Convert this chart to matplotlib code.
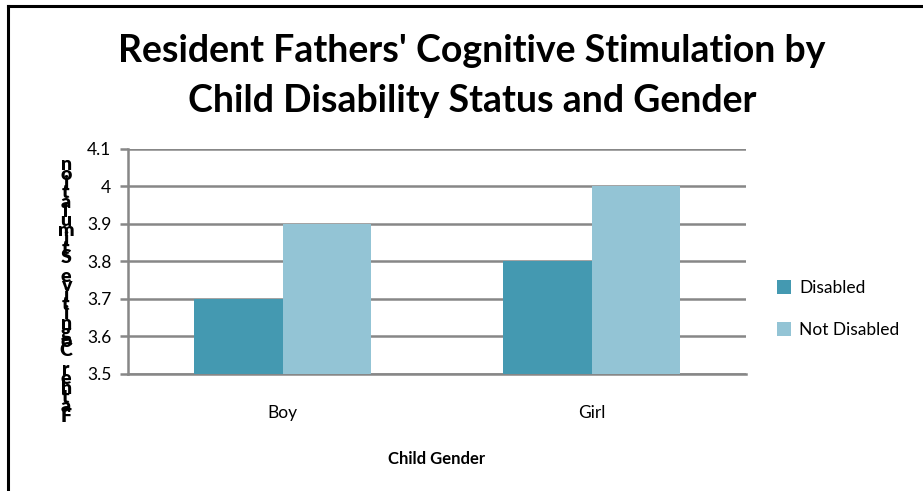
import matplotlib.pyplot as plt
import numpy as np
from matplotlib.lines import Line2D

# Data
genders = ['Boy', 'Girl']
disabled = [3.7, 3.8]
not_disabled = [3.9, 4.0]
series_names = ['Disabled', 'Not Disabled']
y_ticks = [3.5, 3.6, 3.7, 3.8, 3.9, 4.0, 4.1]
y_tick_labels = ['3.5', '3.6', '3.7', '3.8', '3.9', '4', '4.1']
y_label = 'Father Cognitive Stimulation'

col_dis = '#4499B1'
col_not = '#93C4D5'
grid_col = '#878787'

plt.rcParams['font.family'] = ['Lato', 'DejaVu Sans']

W, H = 923, 491
fig = plt.figure(figsize=(W / 100, H / 100), dpi=100)

# outer frame (only left and top edges visible in the reference)
fig.add_artist(Line2D([8 / W, 8 / W], [0, 1 - 6 / H], color='black', lw=2.2, transform=fig.transFigure))
fig.add_artist(Line2D([8 / W, 1], [1 - 6 / H, 1 - 6 / H], color='black', lw=2.2, transform=fig.transFigure))

ax = fig.add_axes([128 / W, 1 - 374 / H, (746 - 128) / W, (374 - 149) / H])

x = np.arange(len(genders))
w = 0.285
ax.bar(x - w / 2, disabled, w, color=col_dis, label=series_names[0], zorder=3)
ax.bar(x + w / 2, not_disabled, w, color=col_not, label=series_names[1], zorder=3)

ax.set_xlim(-0.5, 1.5)
ax.set_ylim(3.5, 4.1)
ax.set_yticks(y_ticks)
ax.set_yticklabels(y_tick_labels, fontsize=12.5)
ax.set_xticks(x)
ax.set_xticklabels(genders, fontsize=12.5)
ax.tick_params(axis='x', length=0, pad=22)
ax.tick_params(axis='y', length=6, width=1.8, color=grid_col, pad=6)

ax.yaxis.grid(True, color=grid_col, lw=1.8, zorder=0)
for s in ['top', 'right']:
    ax.spines[s].set_visible(False)
for s in ['left', 'bottom']:
    ax.spines[s].set_color(grid_col)
    ax.spines[s].set_linewidth(1.8)

ax.set_xlabel('Child Gender', fontsize=12, fontweight='bold', labelpad=22)

# stacked, upright y label as in the original export
n = len(y_label)
top_y, bot_y = 165, 416
for i, ch in enumerate(reversed(y_label)):
    yy = top_y + (bot_y - top_y) * i / (n - 1)
    fig.text(66 / W, 1 - yy / H, ch, ha='center', va='center', fontsize=14,
             fontweight='heavy', color='black')

fig.text(472 / W, 1 - 51 / H, "Resident Fathers' Cognitive Stimulation by",
         ha='center', va='center', fontsize=27, fontweight='bold')
fig.text(472 / W, 1 - 101 / H, "Child Disability Status and Gender",
         ha='center', va='center', fontsize=27, fontweight='bold')

fig.legend(loc='center left', bbox_to_anchor=(761 / W, 1 - 309 / H), frameon=False,
           fontsize=12.5, handlelength=0.8, handleheight=0.8, handletextpad=0.5,
           labelspacing=1.5)

fig.savefig('out.png', dpi=100)
